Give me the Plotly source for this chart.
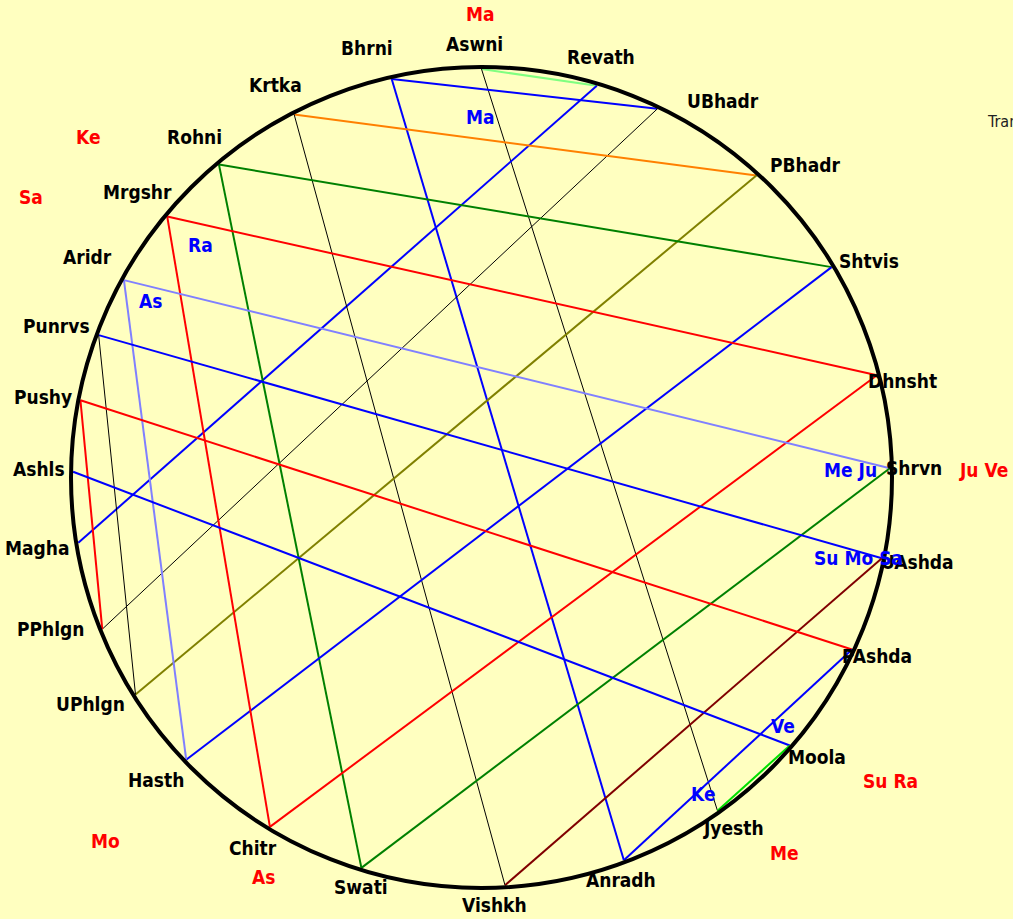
import numpy as np
import plotly.graph_objects as go

# ---------------- data ----------------
NAKSHATRAS = ["Aswni", "Bhrni", "Krtka", "Rohni", "Mrgshr", "Aridr", "Punrvs",
              "Pushy", "Ashls", "Magha", "PPhlgn", "UPhlgn", "Hasth", "Chitr",
              "Swati", "Vishkh", "Anradh", "Jyesth", "Moola", "PAshda", "UAshda",
              "Shrvn", "Dhnsht", "Shtvis", "PBhadr", "UBhadr", "Revath"]
# position of each nakshatra on the wheel (degrees, clockwise from top)
NAK_DEG = [0.0, 347.3, 332.7, 320.0, 309.7, 298.9, 290.4, 280.9, 270.8, 260.8,
           248.2, 237.9, 226.3, 211.2, 197.1, 176.7, 159.6, 144.7, 131.0, 114.9,
           101.4, 88.7, 75.5, 59.0, 42.3, 25.5, 16.4]

CHORD_FROM = ["Aswni", "Aswni", "Bhrni", "Bhrni", "Revath", "UBhadr", "Krtka",
              "Krtka", "PBhadr", "Rohni", "Rohni", "Shtvis", "Mrgshr", "Mrgshr",
              "Dhnsht", "Aridr", "Aridr", "Shrvn", "Punrvs", "Punrvs", "UAshda",
              "Pushy", "Pushy", "PAshda", "Ashls", "Moola"]
CHORD_TO = ["Revath", "Jyesth", "UBhadr", "Anradh", "Magha", "PPhlgn", "PBhadr",
            "Vishkh", "UPhlgn", "Shtvis", "Swati", "Hasth", "Dhnsht", "Chitr",
            "Chitr", "Shrvn", "Hasth", "Swati", "UAshda", "UPhlgn", "Vishkh",
            "PAshda", "PPhlgn", "Anradh", "Moola", "Jyesth"]
CHORD_COLOR = ["#80FF80", "#000000", "#0000FF", "#0000FF", "#0000FF", "#000000",
               "#FF8000", "#000000", "#808000", "#008000", "#008000", "#0000FF",
               "#FF0000", "#FF0000", "#FF0000", "#8080FF", "#8080FF", "#008000",
               "#0000FF", "#000000", "#800000", "#FF0000", "#FF0000", "#0000FF",
               "#0000FF", "#00E000"]

NATAL_TEXT = ["Ma", "Ra", "As", "Me Ju", "Su Mo Sa", "Ve", "Ke"]
NATAL_NAK = ["Aswni", "Mrgshr", "Aridr", "Shrvn", "UAshda", "Moola", "Jyesth"]
TRANSIT_TEXT = ["Ma", "Ke", "Sa", "Ju Ve", "Su Ra", "Me", "As", "Mo"]
TRANSIT_NAK = ["Aswni", "Mrgshr", "Aridr", "Shrvn", "Moola", "Jyesth", "Chitr", "Hasth"]

SIDE_TEXT = "Transit"

# ---------------- layout (positions / styles) ----------------
W, H = 1013, 919
CX, CY, R = 481.5, 477.5, 410.5       # wheel centre / radius in pixels
END_R = 0.995                          # chord ends (fraction of radius)

# label placement (angle deg clockwise from top, radius factor)
NAK_LABEL_POS = [(359.1, 1.056), (345.1, 1.083), (332.3, 1.080), (319.9, 1.084),
                 (309.7, 1.088), (299.2, 1.100), (289.6, 1.098), (280.4, 1.087),
                 (271.1, 1.078), (261.0, 1.094), (250.6, 1.112), (239.9, 1.102),
                 (227.1, 1.083), (211.7, 1.060), (196.4, 1.040), (178.3, 1.042),
                 (160.9, 1.038), (144.3, 1.051), (129.8, 1.064), (114.3, 1.058),
                 (101.0, 1.083), (88.8, 1.054), (77.1, 1.051), (60.8, 1.081),
                 (46.0, 1.097), (32.7, 1.090), (15.9, 1.066)]
NATAL_LABEL_POS = [(359.9, 0.877), (309.6, 0.889), (298.1, 0.913), (88.8, 0.899),
                   (102.0, 0.940), (129.4, 0.952), (144.9, 0.941)]
TRANSIT_LABEL_POS = [(359.9, 1.130), (310.9, 1.268), (301.9, 1.294), (89.1, 1.223),
                     (126.6, 1.241), (141.1, 1.176), (208.6, 1.108), (226.0, 1.275)]

FONT = "DejaVu Sans Condensed, DejaVu Sans"
FS = 19
BG = "#FFFFC0"


def polar(deg, r):
    a = np.deg2rad(deg)
    return r * np.sin(a), r * np.cos(a)


nak_index = {n: i for i, n in enumerate(NAKSHATRAS)}

fig = go.Figure()

# chords
for a, b, col in zip(CHORD_FROM, CHORD_TO, CHORD_COLOR):
    xa, ya = polar(NAK_DEG[nak_index[a]], END_R)
    xb, yb = polar(NAK_DEG[nak_index[b]], END_R)
    fig.add_trace(go.Scatter(
        x=[xa, xb], y=[ya, yb], mode="lines",
        line=dict(color=col, width=1 if col == "#000000" else 2),
        hoverinfo="skip", showlegend=False))

# wheel
fig.add_shape(type="circle", xref="x", yref="y", x0=-1, y0=-1, x1=1, y1=1,
              line=dict(color="black", width=4), layer="above")

annotations = []
for name, (deg, r) in zip(NAKSHATRAS, NAK_LABEL_POS):
    x, y = polar(deg, r)
    annotations.append(dict(x=x, y=y, text="<b>%s</b>" % name, showarrow=False,
                            xanchor="center", yanchor="middle",
                            font=dict(family=FONT, size=FS, color="black")))
for txt, (deg, r) in zip(NATAL_TEXT, NATAL_LABEL_POS):
    x, y = polar(deg, r)
    annotations.append(dict(x=x, y=y, text="<b>%s</b>" % txt, showarrow=False,
                            xanchor="center", yanchor="middle",
                            font=dict(family=FONT, size=FS, color="#0000FF")))
for txt, (deg, r) in zip(TRANSIT_TEXT, TRANSIT_LABEL_POS):
    x, y = polar(deg, r)
    annotations.append(dict(x=x, y=y, text="<b>%s</b>" % txt, showarrow=False,
                            xanchor="center", yanchor="middle",
                            font=dict(family=FONT, size=FS, color="#FF0000")))
annotations.append(dict(x=985 / W, y=1 - 121 / H, xref="paper", yref="paper",
                        text=SIDE_TEXT, showarrow=False, xanchor="left",
                        yanchor="middle",
                        font=dict(family="Liberation Sans Narrow, DejaVu Sans Condensed",
                                  size=16, color="#222222")))

fig.update_layout(
    width=W, height=H, margin=dict(l=0, r=0, t=0, b=0),
    paper_bgcolor=BG, plot_bgcolor=BG,
    xaxis=dict(range=[-CX / R, (W - CX) / R], visible=False, fixedrange=True),
    yaxis=dict(range=[-(H - CY) / R, CY / R], visible=False, fixedrange=True),
    annotations=annotations,
    showlegend=False,
)

fig.write_html(
    "out.html",
    config={"displayModeBar": False},
    post_script="document.body.style.margin='0';"
                "document.body.style.overflow='hidden';"
                "document.body.style.background='%s';" % BG,
)
